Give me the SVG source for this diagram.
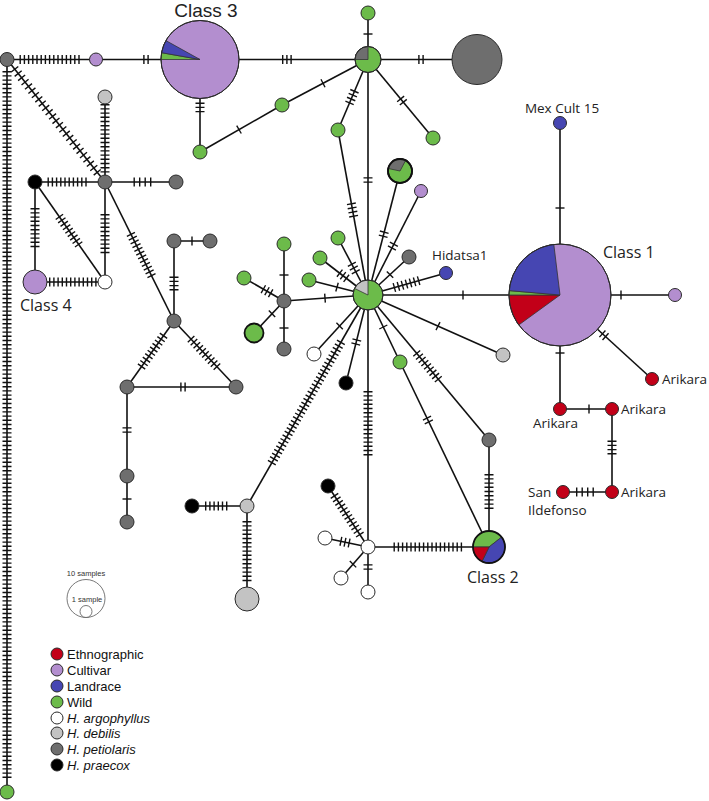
<svg xmlns="http://www.w3.org/2000/svg" width="709" height="801" viewBox="0 0 709 801">
<style>
.e{stroke:#111;stroke-width:1.6;fill:none}
.t{stroke:#111;stroke-width:9;stroke-dasharray:1.4 2.8;fill:none}
.t5{stroke:#111;stroke-width:9;stroke-dasharray:1.4 4.1;fill:none}
.n{stroke:#2a2a2a;stroke-width:1}
.thick{stroke:#111;stroke-width:1.8}
.w{stroke:#333;stroke-width:0.8}
.cu{fill:#b38ecf}.la{fill:#4646b2}.wi{fill:#6cbb4a}.et{fill:#c20018}.ar{fill:#fff}.de{fill:#c3c3c3}.pe{fill:#6e6e6e}.pr{fill:#000}
.lbl{font-family:"Open Sans","Noto Sans",sans-serif;font-size:13.5px;fill:#222}
.big{font-size:16px}
.c3{font-family:"Liberation Sans",Arial,sans-serif;font-size:19px;fill:#222}
.leg{font-family:"Liberation Sans",Arial,sans-serif;font-size:13px;fill:#111}
.sc{font-family:"Liberation Sans",Arial,sans-serif;font-size:7.5px;fill:#333}
</style>
<rect width="709" height="801" fill="#fff"/>
<g id="connectors">
<g class="e">
<line x1="7" y1="59.5" x2="96" y2="59.5"/>
<line x1="96" y1="59.5" x2="368" y2="59.5"/>
<line x1="368" y1="59.5" x2="477" y2="59.5"/>
<line x1="200" y1="59.5" x2="200" y2="152"/>
<line x1="200" y1="152" x2="282" y2="105"/>
<line x1="282" y1="105" x2="368" y2="59.5"/>
<line x1="368" y1="13" x2="368" y2="295"/>
<line x1="368" y1="59.5" x2="338" y2="130"/>
<line x1="368" y1="59.5" x2="433" y2="138"/>
<line x1="338" y1="130" x2="368" y2="295"/>
<line x1="368" y1="295" x2="400" y2="171"/>
<line x1="368" y1="295" x2="421" y2="191"/>
<line x1="368" y1="295" x2="409" y2="257"/>
<line x1="368" y1="295" x2="446" y2="273"/>
<line x1="368" y1="295" x2="338" y2="238"/>
<line x1="368" y1="295" x2="320" y2="258"/>
<line x1="368" y1="295" x2="309" y2="280"/>
<line x1="368" y1="295" x2="284" y2="301"/>
<line x1="284" y1="244" x2="284" y2="349"/>
<line x1="284" y1="301" x2="244" y2="278"/>
<line x1="284" y1="301" x2="254" y2="333"/>
<line x1="368" y1="295" x2="675" y2="295"/>
<line x1="368" y1="295" x2="503" y2="355"/>
<line x1="368" y1="295" x2="400" y2="362"/>
<line x1="400" y1="362" x2="489" y2="547"/>
<line x1="368" y1="295" x2="489" y2="440"/>
<line x1="489" y1="440" x2="489" y2="547"/>
<line x1="368" y1="295" x2="368" y2="592"/>
<line x1="368" y1="295" x2="346" y2="383"/>
<line x1="368" y1="295" x2="314" y2="354"/>
<line x1="368" y1="295" x2="247" y2="506"/>
<line x1="192" y1="506" x2="247" y2="506"/>
<line x1="247" y1="506" x2="247" y2="599"/>
<line x1="368" y1="547" x2="328" y2="486"/>
<line x1="368" y1="547" x2="325" y2="538"/>
<line x1="368" y1="547" x2="341" y2="578"/>
<line x1="368" y1="547" x2="489" y2="547"/>
<line x1="560" y1="123" x2="560" y2="409"/>
<line x1="560" y1="295" x2="652" y2="379"/>
<line x1="560" y1="409" x2="612" y2="409"/>
<line x1="612" y1="409" x2="612" y2="492"/>
<line x1="563" y1="492" x2="612" y2="492"/>
<line x1="7" y1="59.5" x2="7" y2="792"/>
<line x1="7" y1="59.5" x2="105" y2="182"/>
<line x1="105" y1="97" x2="105" y2="282"/>
<line x1="35" y1="182" x2="176" y2="182"/>
<line x1="35" y1="182" x2="35" y2="282"/>
<line x1="35" y1="182" x2="105" y2="282"/>
<line x1="35" y1="282" x2="105" y2="282"/>
<line x1="105" y1="182" x2="174" y2="321"/>
<line x1="174" y1="241" x2="210" y2="241"/>
<line x1="174" y1="241" x2="174" y2="321"/>
<line x1="174" y1="321" x2="127" y2="387"/>
<line x1="174" y1="321" x2="236" y2="387"/>
<line x1="127" y1="387" x2="236" y2="387"/>
<line x1="127" y1="387" x2="127" y2="522"/>
</g>
<g class="t">
<line x1="19.5" y1="59.5" x2="79.7" y2="59.5"/>
<line x1="143.2" y1="59.5" x2="148.8" y2="59.5"/>
<line x1="282" y1="59.5" x2="291.8" y2="59.5"/>
<line x1="200" y1="102.5" x2="200" y2="112.3"/>
<line x1="368" y1="33.3" x2="368" y2="34.7"/>
<line x1="418.2" y1="59.5" x2="423.8" y2="59.5"/>
<line x1="323.6" y1="83.0" x2="322.4" y2="83.6"/>
<line x1="239.6" y1="129.25" x2="238.4" y2="129.95"/>
<line x1="354.7" y1="90.6" x2="349.3" y2="103.4"/>
<line x1="400.2" y1="98.4" x2="403.8" y2="102.8"/>
<line x1="368" y1="177.2" x2="368" y2="182.8"/>
<line x1="351.25" y1="203.1" x2="353.75" y2="216.9"/>
<line x1="383.0" y1="236.9" x2="384.4" y2="231.5"/>
<line x1="391.6" y1="248.6" x2="394.2" y2="243.6"/>
<line x1="389.5" y1="275.1" x2="390.5" y2="274.1"/>
<line x1="393.7" y1="287.7" x2="419.3" y2="280.5"/>
<line x1="356.1" y1="272.3" x2="351.5" y2="263.7"/>
<line x1="346.9" y1="278.7" x2="339.1" y2="272.7"/>
<line x1="337.7" y1="287.3" x2="336.3" y2="286.9"/>
<line x1="325.7" y1="298.05" x2="324.3" y2="298.15"/>
<line x1="284" y1="274.3" x2="284" y2="275.7"/>
<line x1="284" y1="327.3" x2="284" y2="328.7"/>
<line x1="271.25" y1="293.6" x2="262.75" y2="288.8"/>
<line x1="272.5" y1="313.3" x2="271.5" y2="314.3"/>
<line x1="462.3" y1="295" x2="463.7" y2="295"/>
<line x1="437.4" y1="325.8" x2="438.6" y2="326.4"/>
<line x1="383.0" y1="326.4" x2="383.6" y2="327.6"/>
<line x1="416.3" y1="352.9" x2="438.7" y2="379.7"/>
<line x1="489" y1="474" x2="489" y2="509"/>
<line x1="426.7" y1="417.5" x2="429.1" y2="422.5"/>
<line x1="368" y1="391" x2="368" y2="455.4"/>
<line x1="357.0" y1="339.3" x2="355.6" y2="344.7"/>
<line x1="340.1" y1="325.5" x2="339.1" y2="326.5"/>
<line x1="341.2" y1="341.8" x2="271.5" y2="463.2"/>
<line x1="205" y1="506" x2="227.4" y2="506"/>
<line x1="247" y1="521" x2="247" y2="581.2"/>
<line x1="360.2" y1="535.1" x2="334.1" y2="495.3"/>
<line x1="349.8" y1="543.2" x2="340.2" y2="541.2"/>
<line x1="353.5" y1="563.7" x2="352.5" y2="564.7"/>
<line x1="368" y1="564.2" x2="368" y2="569.8"/>
<line x1="393.5" y1="547" x2="462.1" y2="547"/>
<line x1="560" y1="207.3" x2="560" y2="208.7"/>
<line x1="620.3" y1="295" x2="621.7" y2="295"/>
<line x1="601.9" y1="333.3" x2="606.1" y2="337.1"/>
<line x1="560" y1="352.3" x2="560" y2="353.7"/>
<line x1="588.3" y1="409" x2="589.7" y2="409"/>
<line x1="612" y1="440.5" x2="612" y2="454.5"/>
<line x1="7" y1="71" x2="7" y2="780"/>
<line x1="105" y1="104" x2="105" y2="172.6"/>
<line x1="47.5" y1="182" x2="86.7" y2="182"/>
<line x1="35" y1="208" x2="35" y2="247.2"/>
<line x1="59.0" y1="216.3" x2="79.0" y2="244.9"/>
<line x1="105" y1="214" x2="105" y2="253.2"/>
<line x1="49" y1="282" x2="96.6" y2="282"/>
<line x1="130.6" y1="233.7" x2="151.8" y2="276.3"/>
<line x1="191.3" y1="241" x2="192.7" y2="241"/>
<line x1="174" y1="276.5" x2="174" y2="290.5"/>
<line x1="163.9" y1="335.2" x2="141.1" y2="367.2"/>
<line x1="190.6" y1="338.6" x2="217.4" y2="367.2"/>
<line x1="180.2" y1="387" x2="185.8" y2="387"/>
<line x1="127" y1="427.2" x2="127" y2="432.8"/>
<line x1="127" y1="498.3" x2="127" y2="499.7"/>
</g>
<g class="t5">
<line x1="576" y1="492" x2="593.9" y2="492"/>
<line x1="14.3" y1="68.7" x2="97.7" y2="172.9"/>
<line x1="133.5" y1="182" x2="151.4" y2="182"/>
</g>
</g>
<g id="nodes">
<g id="n-tl"><circle class="n pe" cx="7" cy="59.5" r="7"/></g>
<g id="n-p1"><circle class="n cu" cx="96" cy="59.5" r="6.5"/></g>
<g id="class3">
<circle class="n cu" cx="200" cy="59.5" r="39"/>
<path class="w wi" d="M200,59.5 L161,59.5 A39,39 0 0,1 161.6,52.7 Z"/>
<path class="w la" d="M200,59.5 L161.6,52.7 A39,39 0 0,1 165.9,40.6 Z"/>
<circle class="n" fill="none" cx="200" cy="59.5" r="39"/>
<text class="c3" x="206" y="17" text-anchor="middle">Class 3</text>
</g>
<g id="n-g1"><circle class="n wi" cx="200" cy="152" r="7"/></g>
<g id="n-g2"><circle class="n wi" cx="282" cy="105" r="7"/></g>
<g id="n-htop">
<circle class="n wi" cx="368" cy="59.5" r="13"/>
<path class="w pe" d="M368,59.5 L355,59.5 A13,13 0 0,1 368,46.5 Z"/>
<circle class="n" fill="none" cx="368" cy="59.5" r="13"/>
</g>
<g id="n-gtop"><circle class="n wi" cx="368" cy="13" r="7"/></g>
<g id="n-biggray"><circle class="n pe" cx="477" cy="59.5" r="25"/></g>
<g id="n-ga"><circle class="n wi" cx="338" cy="130" r="7"/></g>
<g id="n-gb"><circle class="n wi" cx="433" cy="138" r="7"/></g>
<g id="n-lg1"><circle class="n de" cx="105" cy="97" r="7"/></g>
<g id="n-gr1"><circle class="n pe" cx="105" cy="182" r="7"/></g>
<g id="n-bk1"><circle class="n pr" cx="35" cy="182" r="7"/></g>
<g id="n-gr2"><circle class="n pe" cx="176" cy="182" r="7"/></g>
<g id="class4"><circle class="n cu" cx="35" cy="282" r="12"/>
<text class="lbl big" x="20" y="311">Class 4</text></g>
<g id="n-w1"><circle class="n ar" cx="105" cy="282" r="7"/></g>
<g id="n-gr3"><circle class="n pe" cx="174" cy="241" r="7"/></g>
<g id="n-gr4"><circle class="n pe" cx="210" cy="241" r="7"/></g>
<g id="n-gr5"><circle class="n pe" cx="174" cy="321" r="7"/></g>
<g id="n-gr6"><circle class="n pe" cx="127" cy="387" r="7"/></g>
<g id="n-gr7"><circle class="n pe" cx="236" cy="387" r="7"/></g>
<g id="n-gr8"><circle class="n pe" cx="127" cy="476" r="7"/></g>
<g id="n-gr9"><circle class="n pe" cx="127" cy="522" r="7"/></g>
<g id="n-gbottom"><circle class="n wi" cx="7" cy="792" r="7"/></g>
<g id="n-gl1"><circle class="n wi" cx="284" cy="244" r="7"/></g>
<g id="n-grc"><circle class="n pe" cx="284" cy="301" r="7"/></g>
<g id="n-gl2"><circle class="n wi" cx="244" cy="278" r="7"/></g>
<g id="n-gbig"><circle class="thick wi" cx="254" cy="333" r="9.5"/></g>
<g id="n-grd"><circle class="n pe" cx="284" cy="349" r="7"/></g>
<g id="n-hub">
<circle class="n wi" cx="368" cy="295" r="15"/>
<path class="w de" d="M368,295 L354.5,288.4 A15,15 0 0,1 368,280 Z"/>
<circle class="n" fill="none" cx="368" cy="295" r="15"/>
</g>
<g id="n-gn1"><circle class="n wi" cx="338" cy="238" r="7"/></g>
<g id="n-gn2"><circle class="n wi" cx="320" cy="258" r="7"/></g>
<g id="n-gn3"><circle class="n wi" cx="309" cy="280" r="7"/></g>
<g id="n-piegg">
<circle class="thick wi" cx="400" cy="171" r="12"/>
<path class="w pe" d="M400,171 L388.3,168.5 A12,12 0 0,1 405.6,160.4 Z"/>
<circle class="thick" fill="none" cx="400" cy="171" r="12"/>
</g>
<g id="n-pn"><circle class="n cu" cx="421" cy="191" r="6.5"/></g>
<g id="n-grn"><circle class="n pe" cx="409" cy="257" r="7"/></g>
<g id="n-hidatsa"><circle class="n la" cx="446" cy="273" r="6.5"/>
<text class="lbl" x="432" y="260">Hidatsa1</text></g>
<g id="class1">
<circle class="n cu" cx="560" cy="295" r="51"/>
<path class="w et" d="M560,295 L518.7,325 A51,51 0 0,1 509,295 Z"/>
<path class="w wi" d="M560,295 L509,295 A51,51 0 0,1 509.2,290.6 Z"/>
<path class="w la" d="M560,295 L509.2,290.6 A51,51 0 0,1 553.8,244.4 Z"/>
<circle class="n" fill="none" cx="560" cy="295" r="51"/>
<text class="lbl big" x="603" y="258">Class 1</text>
</g>
<g id="n-lgr"><circle class="n de" cx="503" cy="355" r="7"/></g>
<g id="n-gs"><circle class="n wi" cx="400" cy="362" r="7"/></g>
<g id="n-grs"><circle class="n pe" cx="489" cy="440" r="7"/></g>
<g id="n-bks"><circle class="n pr" cx="346" cy="383" r="7"/></g>
<g id="n-ws"><circle class="n ar" cx="314" cy="354" r="7"/></g>
<g id="n-lgs"><circle class="n de" cx="247" cy="506" r="7"/></g>
<g id="n-bks2"><circle class="n pr" cx="192" cy="506" r="7"/></g>
<g id="n-lgbig"><circle class="n de" cx="247" cy="599" r="12"/></g>
<g id="n-wh"><circle class="n ar" cx="368" cy="547" r="7"/></g>
<g id="n-bkw"><circle class="n pr" cx="328" cy="486" r="7"/></g>
<g id="n-ww1"><circle class="n ar" cx="325" cy="538" r="7"/></g>
<g id="n-ww2"><circle class="n ar" cx="341" cy="578" r="7"/></g>
<g id="n-ww3"><circle class="n ar" cx="368" cy="592" r="7"/></g>
<g id="class2">
<path class="w wi" d="M489,547 L473,547 A16,16 0 0,1 501.6,537.1 Z"/>
<path class="w la" d="M489,547 L501.6,537.1 A16,16 0 0,1 482,561.4 Z"/>
<path class="w et" d="M489,547 L482,561.4 A16,16 0 0,1 473,547 Z"/>
<circle class="thick" fill="none" cx="489" cy="547" r="16"/>
<text class="lbl big" x="467" y="583">Class 2</text>
</g>
<g id="n-mex"><circle class="n la" cx="560" cy="123" r="6.5"/>
<text class="lbl" x="562" y="113" text-anchor="middle">Mex Cult 15</text></g>
<g id="n-pr"><circle class="n cu" cx="675" cy="295" r="6.5"/></g>
<g id="n-r1"><circle class="n et" cx="652" cy="379" r="6.5"/>
<text class="lbl" x="662" y="384">Arikara</text></g>
<g id="n-r2"><circle class="n et" cx="560" cy="409" r="6.5"/>
<text class="lbl" x="533" y="428">Arikara</text></g>
<g id="n-r3"><circle class="n et" cx="612" cy="409" r="6.5"/>
<text class="lbl" x="621" y="414">Arikara</text></g>
<g id="n-r4"><circle class="n et" cx="612" cy="492" r="6.5"/>
<text class="lbl" x="621" y="497">Arikara</text></g>
<g id="n-r5"><circle class="n et" cx="563" cy="492" r="6.5"/>
<text class="lbl" x="528" y="497">San</text>
<text class="lbl" x="528" y="515">Ildefonso</text></g>
</g>
<g id="legend">
<text class="sc" x="86" y="576" text-anchor="middle">10 samples</text>
<circle cx="86" cy="598.5" r="19" fill="none" stroke="#555" stroke-width="0.8"/>
<text class="sc" x="87" y="602" text-anchor="middle">1 sample</text>
<circle cx="86" cy="611.5" r="6" fill="#fff" stroke="#555" stroke-width="0.8"/>
<circle class="n et" cx="57" cy="654" r="6"/><text class="leg" x="67" y="658.5">Ethnographic</text>
<circle class="n cu" cx="57" cy="670" r="6"/><text class="leg" x="67" y="674.5">Cultivar</text>
<circle class="n la" cx="57" cy="686" r="6"/><text class="leg" x="67" y="690.5">Landrace</text>
<circle class="n wi" cx="57" cy="702" r="6"/><text class="leg" x="67" y="706.5">Wild</text>
<circle class="n ar" cx="57" cy="718" r="6"/><text class="leg" x="67" y="722.5" font-style="italic">H. argophyllus</text>
<circle class="n de" cx="57" cy="733" r="6"/><text class="leg" x="67" y="737.5" font-style="italic">H. debilis</text>
<circle class="n pe" cx="57" cy="749" r="6"/><text class="leg" x="67" y="753.5" font-style="italic">H. petiolaris</text>
<circle class="n pr" cx="57" cy="765" r="6"/><text class="leg" x="67" y="769.5" font-style="italic">H. praecox</text>
</g>
</svg>
